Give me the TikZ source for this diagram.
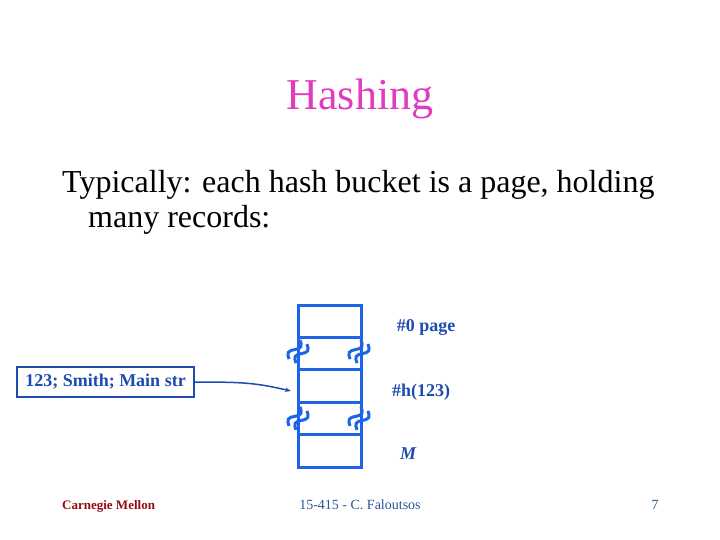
\documentclass[tikz,border=0pt]{standalone}
\usepackage{fontspec}
\setmainfont{Liberation Serif}
\usepackage{xcolor}
\usepackage{tikz}
\usetikzlibrary{arrows.meta, positioning, calc}
\definecolor{slidemagenta}{RGB}{225, 60, 190}
\definecolor{bucketblue}{RGB}{30, 100, 230}
\definecolor{recblue}{RGB}{30, 75, 175}
\definecolor{footred}{RGB}{150, 10, 20}
\definecolor{footblue}{RGB}{40, 85, 150}
\tikzset{
    cell/.style={draw=bucketblue, line width=3pt, minimum width=63pt, minimum height=32.4pt, inner sep=0pt, outer sep=0pt},
    lbl/.style={text=recblue, font=\fontsize{18}{20}\selectfont\bfseries, anchor=base, inner sep=0pt},
    brk/.pic={
        \foreach \d in {-4,4}
            \draw[bucketblue, line width=3pt, rotate=60] (-11,\d) sin (-5.5,\d-4) cos (0,\d) sin (5.5,\d+4) cos (11,\d);
    }
}

\begin{document}
\begin{tikzpicture}[x=1pt, y=-1pt]
            \useasboundingbox (0,0) rectangle (720,540);
            \node[text=slidemagenta, font=\fontsize{44}{48}\selectfont, anchor=base, inner sep=0pt] (title) at (360,110) {Hashing};
            \node[anchor=base west, font=\fontsize{32}{36}\selectfont, inner sep=0pt] (line1) at (62,193) {Typically: each hash bucket is a page, holding};
            \node[anchor=base west, font=\fontsize{32}{36}\selectfont, inner sep=0pt] (line2) at (88,228) {many records:};

            % Bucket
            \node[cell] (cell0) at (329.5,321.2) {};
            \node[cell, below=0pt of cell0] (cellA) {};
            \node[cell, below=0pt of cellA] (cellH) {};
            \node[cell, below=0pt of cellH] (cellB) {};
            \node[cell, below=0pt of cellB] (cellM) {};
            \pic at ($(cellA.west)+(0,-2)$) {brk};
            \pic at ($(cellA.east)+(-2,-2)$) {brk};
            \pic at ($(cellB.west)+(0,0)$) {brk};
            \pic at ($(cellB.east)+(-2,0)$) {brk};

            \node[lbl] (page0) at (426,331) {\#0 page};
            \node[lbl] (hval) at (421,396) {\#h(123)};
            \node[lbl, font=\fontsize{18}{20}\selectfont\bfseries\itshape] (bigM) at (408,459) {M};

            % Record
            \node[draw=recblue, line width=2pt, minimum width=177pt, minimum height=30pt, text=recblue, font=\fontsize{18}{20}\selectfont\bfseries, inner sep=0pt] (rec) at (105.5,382) {123; Smith; Main str};
            \draw[recblue, line width=1.5pt, -{Stealth[length=6pt]}] (rec.east) .. controls +(50,0) and +(-35,-8) .. ($(cellH.west)+(-7,5)$);

            % Footer
            \node[anchor=base west, text=footred, font=\fontsize{13}{15}\selectfont\bfseries, inner sep=0pt] (cmu) at (62,509) {Carnegie Mellon};
            \node[anchor=base, text=footblue, font=\fontsize{14}{16}\selectfont, inner sep=0pt] (course) at (360,509) {15-415 - C. Faloutsos};
            \node[anchor=base, text=footblue, font=\fontsize{14}{16}\selectfont, inner sep=0pt] (pnum) at (655,509) {7};
        \end{tikzpicture}
\end{document}
